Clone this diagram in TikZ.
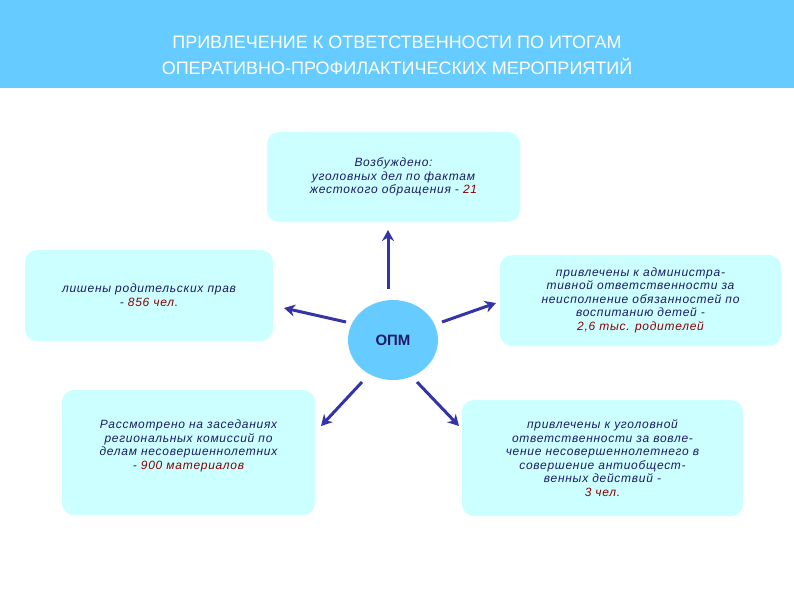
\documentclass[tikz,border=0pt]{standalone}
\usepackage{fontspec}
\setmainfont{Liberation Sans}
\usetikzlibrary{arrows.meta,shapes.geometric}
\definecolor{hdr}{HTML}{66CCFF}
\definecolor{boxc}{HTML}{CCFFFF}
\definecolor{txt}{HTML}{1A1A66}
\definecolor{num}{HTML}{8B0000}
\definecolor{arr}{HTML}{3333AA}
\definecolor{circ}{HTML}{66CCFF}
\tikzset{
 infobox/.style={fill=boxc, draw=none, rounded corners=12pt, inner sep=0pt},
 infotext/.style={align=center, text=txt, font=\fontsize{12}{13.5}\selectfont\itshape\addfontfeatures{LetterSpace=6}},
 conn/.style={draw=arr, line width=3pt, -{Stealth[length=11pt,width=12pt]}}
}
\begin{document}
\begin{tikzpicture}[x=1pt,y=-1pt]
\useasboundingbox (0,0) rectangle (794,595);
\fill[white] (0,0) rectangle (794,595);
\fill[hdr] (0,0) rectangle (794,88);
\node[text=white, font=\fontsize{18}{26}\selectfont, align=center] (title) at (397,55) {ПРИВЛЕЧЕНИЕ К ОТВЕТСТВЕННОСТИ ПО ИТОГАМ\\ОПЕРАТИВНО-ПРОФИЛАКТИЧЕСКИХ МЕРОПРИЯТИЙ};

\fill[infobox] (267,132) rectangle (520,222);
\node[infotext] (top) at (393.5,177) {Возбуждено:\\уголовных дел по фактам\\жестокого обращения - {\color{num}21}};
\fill[infobox] (25,250) rectangle (273,341);
\node[infotext] (left) at (149,295) {лишены родительских прав\\- {\color{num}856 чел.}};
\fill[infobox] (500,255) rectangle (781,346);
\node[infotext] (right) at (640.5,300) {привлечены к администра-\\тивной ответственности за\\неисполнение обязанностей по\\воспитанию детей -\\{\color{num}2,6 тыс. родителей}};
\fill[infobox] (62,390) rectangle (315,515);
\node[infotext] (bl) at (188.5,446) {Рассмотрено на заседаниях\\региональных комиссий по\\делам несовершеннолетних\\- {\color{num}900 материалов}};
\fill[infobox] (462,400) rectangle (743,516);
\node[infotext] (br) at (602.5,458) {привлечены к уголовной\\ответственности за вовле-\\чение несовершеннолетнего в\\совершение антиобщест-\\венных действий -\\{\color{num}3 чел.}};

\node[ellipse, fill=circ, minimum width=90pt, minimum height=80pt, inner sep=0pt, font=\fontsize{15}{15}\selectfont\bfseries, text=txt] (opm) at (393,340) {\raisebox{-6pt}{ОПМ}};
\coordinate (tA) at (388,230);
\coordinate (lA) at (284,308);
\coordinate (rA) at (496,303);
\coordinate (blA) at (321,426);
\coordinate (brA) at (459,426);
\coordinate (tS) at (388,289);
\coordinate (lS) at (346,322);
\coordinate (rS) at (442,322);
\coordinate (blS) at (362,382);
\coordinate (brS) at (417,382);
\draw[conn] (tS) -- (tA);
\draw[conn] (lS) -- (lA);
\draw[conn] (rS) -- (rA);
\draw[conn] (blS) -- (blA);
\draw[conn] (brS) -- (brA);
\end{tikzpicture}
\end{document}
